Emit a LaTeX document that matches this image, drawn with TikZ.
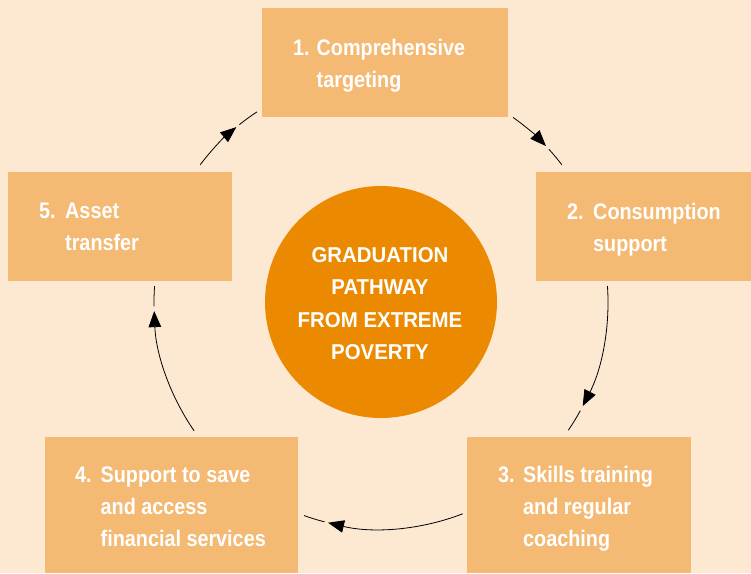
\documentclass[tikz,border=0pt]{standalone}
\usepackage{fontspec}
\usetikzlibrary{arrows.meta}
\newfontfamily\boxfont[FakeStretch=0.88]{Liberation Sans}
\newfontfamily\hubfont[FakeStretch=0.95]{Liberation Sans}
\definecolor{bg}{RGB}{253,232,210}
\definecolor{boxfill}{RGB}{244,185,115}
\definecolor{hubfill}{RGB}{235,138,0}
\begin{document}
\begin{tikzpicture}[x=1pt,y=-1pt,
  stepbox/.style={fill=boxfill, draw=none, inner sep=0pt, anchor=north west},
  steplabel/.style={font=\boxfont\bfseries\fontsize{22.5}{32}\selectfont, text=white, inner sep=0pt, anchor=base west},
  hublabel/.style={font=\hubfont\bfseries\fontsize{21.5}{32.2}\selectfont, text=white, inner sep=0pt, anchor=base},
  flow/.style={draw=black, line width=0.8pt},
  tipped/.style={flow, -{Triangle[length=16pt,width=12.5pt]}}]
\fill[bg] (0,0) rectangle (751,573);
\useasboundingbox (0,0) rectangle (751,573);
% boxes
\node[stepbox, minimum width=246pt, minimum height=109pt] (b1) at (262,8) {};
\node[stepbox, minimum width=215pt, minimum height=109pt] (b2) at (536,172) {};
\node[stepbox, minimum width=224pt, minimum height=136pt] (b3) at (467,437) {};
\node[stepbox, minimum width=253pt, minimum height=136pt] (b4) at (45,437) {};
\node[stepbox, minimum width=224pt, minimum height=109pt] (b5) at (8,172) {};
% hub
\node[circle, fill=hubfill, minimum size=232pt, inner sep=0pt] (hub) at (381,302) {};
\node[hublabel] (hubtext) at (380,262.7) {\begin{tabular}[t]{@{}c@{}}GRADUATION\\PATHWAY\\FROM EXTREME\\POVERTY\end{tabular}};
% labels
\node[steplabel] (t1) at (293,55) {\begin{tabular}[t]{@{}l@{}l@{}}\makebox[23.5pt][l]{1.}&Comprehensive\\&targeting\end{tabular}};
\node[steplabel] (t2) at (567,219.3) {\begin{tabular}[t]{@{}l@{}l@{}}\makebox[26pt][l]{2.}&Consumption\\&support\end{tabular}};
\node[steplabel] (t3) at (498,482.7) {\begin{tabular}[t]{@{}l@{}l@{}}\makebox[25pt][l]{3.}&Skills training\\&and regular\\&coaching\end{tabular}};
\node[steplabel] (t4) at (75,482.3) {\begin{tabular}[t]{@{}l@{}l@{}}\makebox[25.5pt][l]{4.}&Support to save\\&and access\\&financial services\end{tabular}};
\node[steplabel] (t5) at (39,218.3) {\begin{tabular}[t]{@{}l@{}l@{}}\makebox[26pt][l]{5.}&Asset\\&transfer\end{tabular}};
% arcs
\draw[tipped] (hub.center) ++(217.2:227) arc[start angle=217.2, end angle=230.4, radius=227];
\draw[flow] (hub.center) ++(231.4:227) arc[start angle=231.4, end angle=236.9, radius=227];
\draw[tipped] (hub.center) ++(305.6:227) arc[start angle=305.6, end angle=316.6, radius=227];
\draw[flow] (hub.center) ++(317.7:227) arc[start angle=317.7, end angle=322.8, radius=227];
\draw[tipped] (hub.center) ++(-4:227) arc[start angle=-4, end angle=27.3, radius=227];
\draw[flow] (hub.center) ++(28.6:227) arc[start angle=28.6, end angle=34.4, radius=227];
\draw[tipped] (hub.center) ++(68.9:227) arc[start angle=68.9, end angle=103.5, radius=227];
\draw[flow] (hub.center) ++(104.4:227) arc[start angle=104.4, end angle=109.8, radius=227];
\draw[tipped] (hub.center) ++(145.4:227) arc[start angle=145.4, end angle=177.7, radius=227];
\draw[flow] (hub.center) ++(178.9:227) arc[start angle=178.9, end angle=184, radius=227];
\end{tikzpicture}
\end{document}
